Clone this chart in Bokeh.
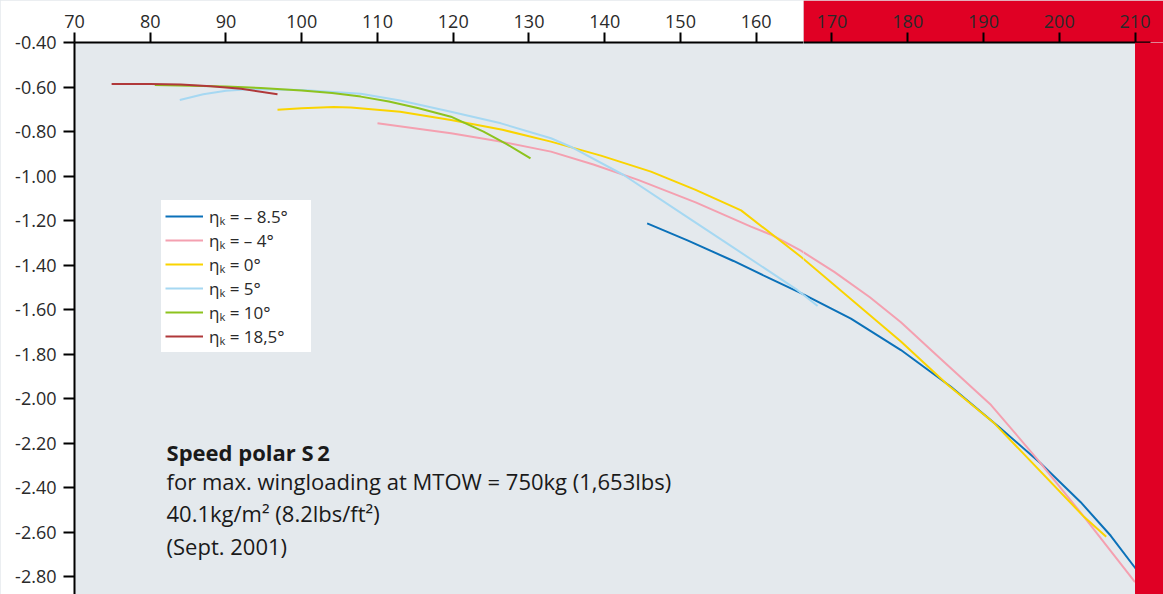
from bokeh.plotting import figure
from bokeh.layouts import row
from bokeh.models import (Range1d, FixedTicker, NumeralTickFormatter, BoxAnnotation,
                          Label, Legend, LegendItem)
from bokeh.embed import file_html
from bokeh.resources import INLINE

# ---------------- data ----------------
x_ticks = [70, 80, 90, 100, 110, 120, 130, 140, 150, 160, 170, 180, 190, 200, 210]
y_ticks = [-0.40, -0.60, -0.80, -1.00, -1.20, -1.40, -1.60, -1.80, -2.00,
           -2.20, -2.40, -2.60, -2.80]

labels = ["ηₖ = – 8.5°", "ηₖ = – 4°", "ηₖ = 0°", "ηₖ = 5°", "ηₖ = 10°", "ηₖ = 18,5°"]

x_m85 = [145.6, 151.0, 157.0, 161.5, 165.9, 172.5, 179.1, 185.7, 192.2, 197.5, 202.8, 206.8, 210.1]
y_m85 = [-1.212, -1.290, -1.381, -1.455, -1.525, -1.640, -1.781, -1.946, -2.131, -2.288, -2.463, -2.615, -2.763]

x_m4 = [110.0, 119.7, 126.0, 132.9, 138.5, 144.4, 152.0, 159.3, 161.9, 165.9, 170.3, 175.0, 179.1, 183.5, 191.0, 197.2, 203.3, 210.0]
y_m4 = [-0.763, -0.808, -0.843, -0.890, -0.948, -1.017, -1.118, -1.227, -1.262, -1.335, -1.430, -1.544, -1.656, -1.794, -2.028, -2.275, -2.531, -2.823]

x_0 = [96.8, 100.0, 104.2, 106.5, 113.0, 119.7, 126.5, 132.9, 139.5, 146.1, 152.0, 158.0, 165.9, 179.1, 185.3, 191.4, 203.3, 206.2]
y_0 = [-0.702, -0.695, -0.690, -0.692, -0.711, -0.748, -0.792, -0.845, -0.908, -0.980, -1.062, -1.154, -1.362, -1.743, -1.938, -2.109, -2.531, -2.619]

x_5 = [83.9, 87.0, 90.0, 93.0, 100.0, 107.8, 113.0, 119.7, 126.3, 132.9, 135.5, 142.5, 150.4, 157.0, 165.4, 168.1]
y_5 = [-0.658, -0.632, -0.617, -0.610, -0.613, -0.630, -0.660, -0.711, -0.763, -0.830, -0.868, -0.995, -1.173, -1.321, -1.511, -1.583]

x_10 = [80.6, 90.0, 94.6, 100.0, 104.0, 107.8, 111.5, 115.3, 119.7, 124.0, 127.0, 130.2]
y_10 = [-0.591, -0.598, -0.604, -0.615, -0.627, -0.643, -0.665, -0.694, -0.733, -0.800, -0.855, -0.920]

x_185 = [74.9, 80.0, 84.0, 88.0, 92.0, 96.8]
y_185 = [-0.586, -0.586, -0.589, -0.597, -0.608, -0.632]

series_x = [x_m85, x_m4, x_0, x_5, x_10, x_185]
series_y = [y_m85, y_m4, y_0, y_5, y_10, y_185]
colors = ["#0b71b9", "#f4a0b0", "#fad400", "#a6d8f2", "#8dc31e", "#b0383a"]

title_lines = ["Speed polar S\u20092",
               "for max. wingloading at MTOW = 750kg (1,653lbs)",
               "40.1kg/m² (8.2lbs/ft²)",
               "(Sept. 2001)"]

RED = "#e00024"
BG = "#e4e9ed"
FONT = "Open Sans"
X_SPLIT = 166.24      # where the red band above the scale begins
X_AXIS_END = 212.05
X_END = 213.76
Y_MIN, Y_MAX = -2.8787, -0.40


def style_xaxis(ax, ticks):
    ax.ticker = FixedTicker(ticks=ticks)
    ax.axis_line_width = 2
    ax.axis_line_color = "black"
    ax.major_tick_line_width = 2
    ax.major_tick_line_color = "black"
    ax.major_tick_out = 10
    ax.major_tick_in = 0
    ax.minor_tick_out = 0
    ax.minor_tick_in = 0
    ax.major_label_standoff = 5
    ax.major_label_text_font = FONT
    ax.major_label_text_font_size = "18px"
    ax.major_label_text_color = "#2a2a2a"


y_range = Range1d(Y_MIN, Y_MAX)

# ---------------- left part (70 .. 166) ----------------
p = figure(width=803, height=594, output_backend="svg", toolbar_location=None,
           x_range=Range1d(70, X_SPLIT), y_range=y_range,
           x_axis_location="above",
           min_border_left=74, min_border_top=42, min_border_right=0, min_border_bottom=0,
           background_fill_color=BG, border_fill_color="white",
           outline_line_color=None)
p.grid.visible = False
style_xaxis(p.xaxis[0], [t for t in x_ticks if t < X_SPLIT])

ya = p.yaxis[0]
ya.ticker = FixedTicker(ticks=y_ticks)
ya.formatter = NumeralTickFormatter(format="0.00")
ya.axis_line_width = 2
ya.axis_line_color = "black"
ya.major_tick_line_width = 2
ya.major_tick_line_color = "black"
ya.major_tick_out = 11
ya.major_tick_in = 0
ya.minor_tick_out = 0
ya.minor_tick_in = 0
ya.major_label_standoff = 7
ya.major_label_text_font = FONT
ya.major_label_text_font_size = "18px"
ya.major_label_text_color = "#2a2a2a"

# ---------------- right part (166 .. 213.8), red band above ----------------
p2 = figure(width=360, height=594, output_backend="svg", toolbar_location=None,
            x_range=Range1d(X_SPLIT, X_END), y_range=y_range,
            x_axis_location="above", y_axis_location=None,
            min_border_left=0, min_border_top=42, min_border_right=0, min_border_bottom=0,
            background_fill_color=BG, border_fill_color=RED,
            outline_line_color=None)
p2.grid.visible = False
style_xaxis(p2.xaxis[0], [t for t in x_ticks if t > X_SPLIT])
p2.xaxis[0].bounds = (X_SPLIT, X_AXIS_END)
p2.add_layout(BoxAnnotation(left=210.0, fill_color=RED, fill_alpha=1, line_alpha=0))

items = []
for xs, ys, c, lab in zip(series_x, series_y, colors, labels):
    r = p.line(xs, ys, line_color=c, line_width=2, line_join="round")
    p2.line(xs, ys, line_color=c, line_width=2, line_join="round")
    items.append(LegendItem(label=lab, renderers=[r]))

legend = Legend(items=items, location=(87, 242), padding=4, spacing=0,
                label_height=24, glyph_height=24, glyph_width=38, label_standoff=6,
                label_width=98,
                label_text_font=FONT, label_text_font_size="17px",
                label_text_color="#2a2a2a", background_fill_color="white",
                background_fill_alpha=1, border_line_alpha=0, margin=0)
p.add_layout(legend)

ys_txt = [-2.239, -2.369, -2.513, -2.661]
for i, (t, yy) in enumerate(zip(title_lines, ys_txt)):
    p.add_layout(Label(x=82.15, y=yy, text=t, text_font=FONT, text_font_size="22px",
                       text_font_style="bold" if i == 0 else "normal",
                       text_color="#1a1a1a", text_baseline="middle"))

layout = row(p, p2, spacing=0, styles={"background-color": BG})
open("out.html", "w").write(file_html(layout, INLINE))
